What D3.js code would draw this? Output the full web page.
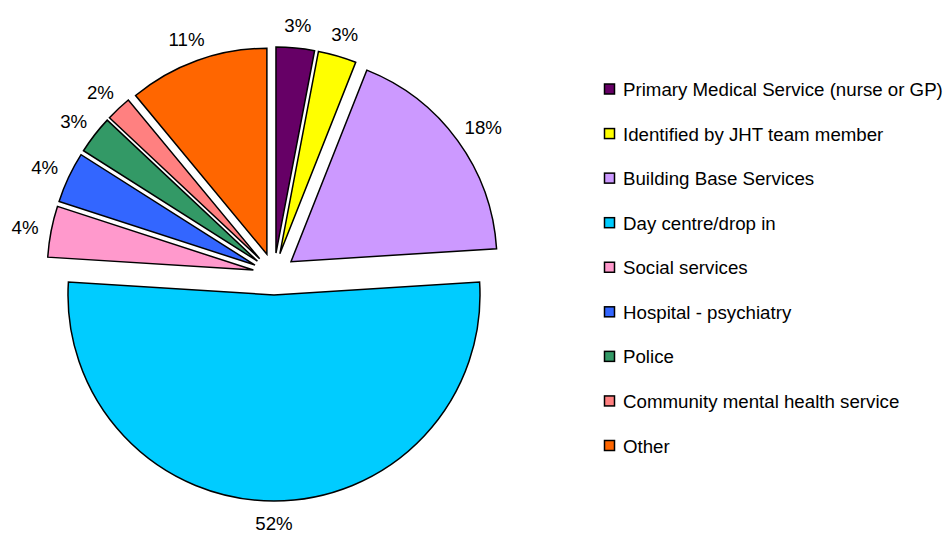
<!DOCTYPE html>
<html>
<head>
<meta charset="utf-8">
<script src="https://cdn.jsdelivr.net/npm/d3@7"></script>
<style>
  html, body { margin: 0; padding: 0; background: #fff; }
  svg { display: block; font-family: "Liberation Sans", Arial, sans-serif; }
</style>
</head>
<body>
<svg id="chart" width="947" height="534"></svg>
<script>
// Referral sources (percent of total)
const categories = [
  "Primary Medical Service (nurse or GP)",
  "Identified by JHT team member",
  "Building Base Services",
  "Day centre/drop in",
  "Social services",
  "Hospital - psychiatry",
  "Police",
  "Community mental health service",
  "Other"
];
const values = [3, 3, 18, 52, 4, 4, 3, 2, 11];
const colors = ["#660066", "#ffff00", "#cc99ff", "#00ccff", "#ff99cc",
                "#3366ff", "#339966", "#ff8080", "#ff6600"];

const svg = d3.select("#chart");
const cx = 274, cy = 274;
const radius = 206;
const explode = 21;
const labelR = 240;

const data = categories.map((c, i) => ({ name: c, value: values[i], color: colors[i] }));

const pie = d3.pie().sort(null).value(d => d.value).startAngle(0).endAngle(2 * Math.PI);
const arc = d3.arc().innerRadius(0).outerRadius(radius);
const arcs = pie(data);

const g = svg.append("g").attr("transform", `translate(${cx},${cy})`);

// Every slice is pulled out along its bisector
g.selectAll("path.slice")
  .data(arcs)
  .join("path")
  .attr("class", "slice")
  .attr("d", arc)
  .attr("transform", d => {
    const a = (d.startAngle + d.endAngle) / 2;
    return `translate(${explode * Math.sin(a)},${-explode * Math.cos(a)})`;
  })
  .attr("fill", d => d.data.color)
  .attr("stroke", "#000")
  .attr("stroke-width", 1.5)
  .attr("stroke-linejoin", "miter");

// Percent labels sit just outside each slice's outer edge
const fs = 18.7;
g.selectAll("text.pct")
  .data(arcs)
  .join("text")
  .attr("class", "pct")
  .attr("font-size", fs)
  .attr("fill", "#000")
  .attr("text-anchor", "middle")
  .attr("dominant-baseline", "central")
  .text(d => d.data.value + "%")
  .each(function (d) {
    const a = (d.startAngle + d.endAngle) / 2;
    const w = this.getComputedTextLength();
    const h = fs;
    const px = labelR * Math.sin(a) + (w / 2) * Math.sin(a);
    const py = -labelR * Math.cos(a) - (h / 2) * Math.cos(a);
    d3.select(this).attr("x", px).attr("y", py);
  });

// Legend
const legend = svg.append("g").attr("transform", "translate(604,0)");
const rowY = d3.scalePoint().domain(categories).range([89.5, 446]);
const rows = legend.selectAll("g.row")
  .data(data)
  .join("g")
  .attr("class", "row")
  .attr("transform", d => `translate(0,${rowY(d.name)})`);
rows.append("rect")
  .attr("x", 0.5).attr("y", -5.5)
  .attr("width", 10).attr("height", 10)
  .attr("fill", d => d.color)
  .attr("stroke", "#000")
  .attr("stroke-width", 1.5);
rows.append("text")
  .attr("x", 19)
  .attr("y", 0)
  .attr("dominant-baseline", "central")
  .attr("font-size", fs)
  .attr("fill", "#000")
  .text(d => d.name);
</script>
</body>
</html>
